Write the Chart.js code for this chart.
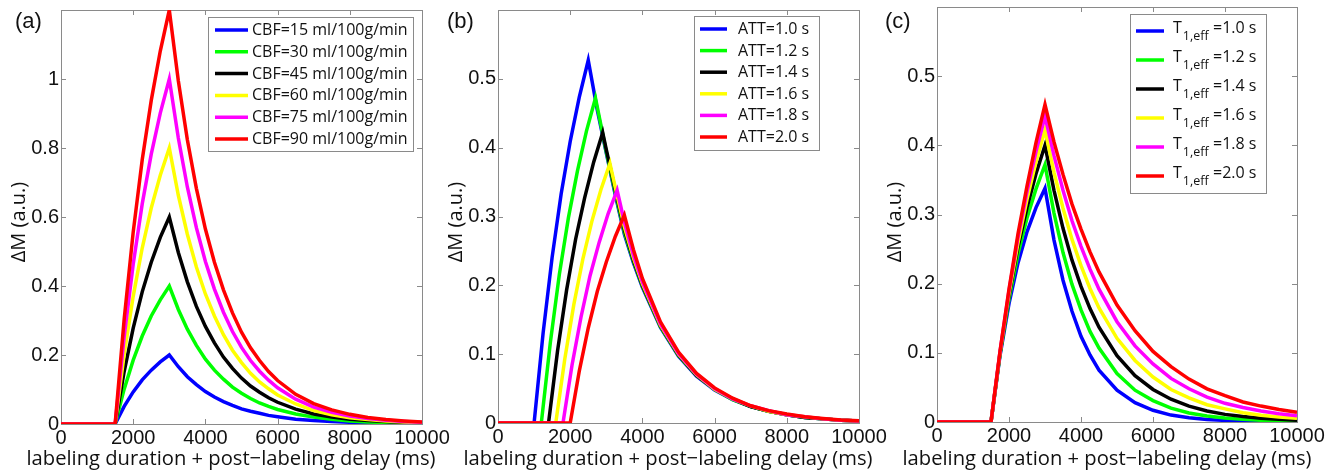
<!DOCTYPE html>
<html>
<head>
<meta charset="utf-8">
<script src="https://cdn.jsdelivr.net/npm/chart.js@4.4.1/dist/chart.umd.min.js"></script>
<style>
  body { margin: 0; background: #fff; width: 1344px; height: 475px; overflow: hidden; position: relative; }
  canvas { position: absolute; top: 0; }
</style>
</head>
<body>
<canvas id="chartA" width="470" height="475" style="left:0px"></canvas>
<canvas id="chartB" width="470" height="475" style="left:440px"></canvas>
<canvas id="chartC" width="464" height="475" style="left:880px"></canvas>
<script>
// shared axis stuff
const xTicks = [0, 2000, 4000, 6000, 8000, 10000];
const seriesColors = ['#0000ff', '#00ff00', '#000000', '#ffff00', '#ff00ff', '#ff0000'];
const xTitle = 'labeling duration + post\u2212labeling delay (ms)';
const yTitle = '\u0394M (a.u.)';

// (a) different CBF values
const cbfLabels = ['CBF=15 ml/100g/min', 'CBF=30 ml/100g/min', 'CBF=45 ml/100g/min',
                   'CBF=60 ml/100g/min', 'CBF=75 ml/100g/min', 'CBF=90 ml/100g/min'];
const yTicksA = [0, 0.2, 0.4, 0.6, 0.8, 1];
const timesA = [0, 1500, 1750, 2000, 2250, 2500, 2750, 3000, 3250, 3500, 3750, 4000, 4250, 4500,
                4750, 5000, 5250, 5500, 5750, 6000, 6500, 7000, 7500, 8000, 8500, 9000, 9500, 10000];
const cbf15 = [0, 0, 0.051, 0.093, 0.128, 0.156, 0.180, 0.200, 0.166, 0.137, 0.114, 0.094, 0.078, 0.065,
               0.054, 0.044, 0.037, 0.031, 0.025, 0.021, 0.014, 0.010, 0.007, 0.005, 0.003, 0.002, 0.0015, 0.001];
const cbf30 = [0, 0, 0.101, 0.185, 0.255, 0.313, 0.360, 0.400, 0.332, 0.275, 0.228, 0.188, 0.156, 0.130,
               0.107, 0.089, 0.074, 0.061, 0.051, 0.042, 0.029, 0.020, 0.014, 0.009, 0.006, 0.004, 0.003, 0.002];
const cbf45 = [0, 0, 0.152, 0.278, 0.383, 0.469, 0.541, 0.600, 0.497, 0.412, 0.341, 0.283, 0.235, 0.194,
               0.161, 0.133, 0.110, 0.092, 0.076, 0.063, 0.043, 0.029, 0.020, 0.014, 0.010, 0.007, 0.0045, 0.003];
const cbf60 = [0, 0, 0.202, 0.370, 0.510, 0.626, 0.721, 0.800, 0.663, 0.550, 0.455, 0.377, 0.313, 0.259,
               0.214, 0.178, 0.147, 0.122, 0.102, 0.084, 0.058, 0.039, 0.027, 0.018, 0.013, 0.009, 0.006, 0.004];
const cbf75 = [0, 0, 0.253, 0.463, 0.638, 0.782, 0.901, 1.000, 0.829, 0.687, 0.569, 0.471, 0.391, 0.324,
               0.268, 0.222, 0.184, 0.153, 0.127, 0.105, 0.072, 0.049, 0.034, 0.023, 0.016, 0.011, 0.0075, 0.005];
const cbf90 = [0, 0, 0.304, 0.556, 0.766, 0.938, 1.081, 1.200, 0.995, 0.824, 0.683, 0.565, 0.469, 0.389,
               0.322, 0.266, 0.221, 0.184, 0.152, 0.126, 0.086, 0.059, 0.041, 0.028, 0.019, 0.013, 0.009, 0.006];

// (b) different arterial transit times
const attLabels = ['ATT=1.0 s', 'ATT=1.2 s', 'ATT=1.4 s', 'ATT=1.6 s', 'ATT=1.8 s', 'ATT=2.0 s'];
const yTicksB = [0, 0.1, 0.2, 0.3, 0.4, 0.5];
const att10T = [0, 1000, 1250, 1500, 1750, 2000, 2250, 2500, 2750, 3000, 3250, 3500, 3750, 4000,
                4500, 5000, 5500, 6000, 6500, 7000, 7500, 8000, 8500, 9000, 9500, 10000];
const att10 = [0, 0, 0.131, 0.241, 0.333, 0.409, 0.473, 0.527, 0.455, 0.392, 0.331, 0.274, 0.233, 0.197,
               0.139, 0.097, 0.068, 0.048, 0.034, 0.024, 0.017, 0.012, 0.008, 0.006, 0.004, 0.003];
const att12T = [0, 1200, 1450, 1700, 1950, 2200, 2450, 2700, 3000, 3250, 3500, 3750, 4000,
                4500, 5000, 5500, 6000, 6500, 7000, 7500, 8000, 8500, 9000, 9500, 10000];
const att12 = [0, 0, 0.117, 0.216, 0.298, 0.366, 0.424, 0.472, 0.394, 0.334, 0.277, 0.235, 0.199,
               0.140, 0.098, 0.069, 0.049, 0.034, 0.024, 0.017, 0.012, 0.008, 0.006, 0.004, 0.003];
const att14T = [0, 1400, 1650, 1900, 2150, 2400, 2650, 2900, 3000, 3250, 3500, 3750, 4000,
                4500, 5000, 5500, 6000, 6500, 7000, 7500, 8000, 8500, 9000, 9500, 10000];
const att14 = [0, 0, 0.105, 0.193, 0.267, 0.327, 0.379, 0.422, 0.397, 0.338, 0.281, 0.237, 0.200,
               0.141, 0.099, 0.069, 0.049, 0.035, 0.024, 0.017, 0.012, 0.008, 0.006, 0.004, 0.003];
const att16T = [0, 1600, 1850, 2100, 2350, 2600, 2850, 3100, 3250, 3500, 3750, 4000,
                4500, 5000, 5500, 6000, 6500, 7000, 7500, 8000, 8500, 9000, 9500, 10000];
const att16 = [0, 0, 0.093, 0.172, 0.238, 0.293, 0.339, 0.377, 0.342, 0.285, 0.240, 0.202,
               0.142, 0.100, 0.070, 0.049, 0.035, 0.025, 0.017, 0.012, 0.009, 0.006, 0.004, 0.003];
const att18T = [0, 1800, 2050, 2300, 2550, 2800, 3050, 3300, 3500, 3750, 4000,
                4500, 5000, 5500, 6000, 6500, 7000, 7500, 8000, 8500, 9000, 9500, 10000];
const att18 = [0, 0, 0.084, 0.154, 0.214, 0.262, 0.304, 0.338, 0.292, 0.244, 0.205,
               0.144, 0.101, 0.071, 0.050, 0.035, 0.025, 0.018, 0.012, 0.009, 0.006, 0.004, 0.003];
const att20T = [0, 2000, 2250, 2500, 2750, 3000, 3250, 3500, 3750, 4000,
                4500, 5000, 5500, 6000, 6500, 7000, 7500, 8000, 8500, 9000, 9500, 10000];
const att20 = [0, 0, 0.075, 0.138, 0.191, 0.234, 0.271, 0.302, 0.252, 0.210,
               0.147, 0.103, 0.072, 0.051, 0.036, 0.025, 0.018, 0.013, 0.009, 0.0065, 0.0045, 0.0033];

// (c) different effective T1
const t1Values = ['=1.0 s', '=1.2 s', '=1.4 s', '=1.6 s', '=1.8 s', '=2.0 s'];
const yTicksC = [0, 0.1, 0.2, 0.3, 0.4, 0.5];
const timesC = [0, 1500, 1750, 2000, 2250, 2500, 2750, 3000, 3250, 3500, 3750, 4000, 4250, 4500,
                5000, 5500, 6000, 6500, 7000, 7500, 8000, 8500, 9000, 9500, 10000];
const t1_10 = [0, 0, 0.096, 0.171, 0.230, 0.275, 0.310, 0.338, 0.263, 0.205, 0.160, 0.124, 0.097, 0.075,
               0.046, 0.028, 0.017, 0.010, 0.006, 0.0037, 0.0023, 0.0014, 0.0008, 0.0005, 0.0003];
const t1_12 = [0, 0, 0.098, 0.178, 0.243, 0.295, 0.337, 0.372, 0.302, 0.245, 0.199, 0.162, 0.131, 0.107,
               0.070, 0.046, 0.031, 0.020, 0.013, 0.0087, 0.0058, 0.0038, 0.0025, 0.0016, 0.0011];
const t1_14 = [0, 0, 0.099, 0.183, 0.253, 0.310, 0.359, 0.400, 0.335, 0.280, 0.234, 0.196, 0.164, 0.137,
               0.096, 0.067, 0.047, 0.033, 0.023, 0.016, 0.011, 0.0079, 0.0055, 0.0038, 0.0027];
const t1_16 = [0, 0, 0.100, 0.186, 0.259, 0.322, 0.376, 0.422, 0.361, 0.309, 0.264, 0.226, 0.193, 0.165,
               0.121, 0.089, 0.065, 0.047, 0.035, 0.025, 0.019, 0.0135, 0.0099, 0.0073, 0.0053];
const t1_18 = [0, 0, 0.102, 0.190, 0.267, 0.333, 0.391, 0.442, 0.385, 0.335, 0.291, 0.254, 0.221, 0.192,
               0.145, 0.110, 0.084, 0.063, 0.048, 0.036, 0.027, 0.021, 0.016, 0.012, 0.009];
const t1_20 = [0, 0, 0.102, 0.192, 0.272, 0.341, 0.404, 0.459, 0.405, 0.358, 0.315, 0.279, 0.246, 0.217,
               0.169, 0.132, 0.102, 0.080, 0.062, 0.048, 0.038, 0.029, 0.023, 0.018, 0.014];

const boxGray = '#8a8a8a';
const textColor = '#111';
const titleFamily = '"Open Sans", sans-serif';

// draws the matlab-ish box, inward ticks, axis titles, the legend and the (a)/(b)/(c) tag
const panelDecor = {
  id: 'panelDecor',
  beforeDatasetsDraw(chart) {
    const {ctx, chartArea: a, scales: {x, y}} = chart;
    ctx.save();
    ctx.strokeStyle = boxGray;
    ctx.lineWidth = 1;
    ctx.beginPath();
    x.ticks.forEach(t => {
      const px = Math.round(x.getPixelForValue(t.value)) + 0.5;
      ctx.moveTo(px, a.bottom); ctx.lineTo(px, a.bottom - 5);
      ctx.moveTo(px, a.top); ctx.lineTo(px, a.top + 5);
    });
    y.ticks.forEach(t => {
      const py = Math.round(y.getPixelForValue(t.value)) + 0.5;
      ctx.moveTo(a.left, py); ctx.lineTo(a.left + 5, py);
      ctx.moveTo(a.right, py); ctx.lineTo(a.right - 5, py);
    });
    ctx.stroke();
    ctx.strokeRect(a.left + 0.5, a.top + 0.5, a.right - a.left, a.bottom - a.top);

    // axis titles (drawn here so Chart.js does not squeeze them to the axis width)
    ctx.fillStyle = textColor;
    ctx.textAlign = 'center';
    ctx.textBaseline = 'alphabetic';
    ctx.font = '20px ' + titleFamily;
    const w = ctx.measureText(xTitle).width;
    const size = Math.min(24, 20 * 409 / w);
    ctx.font = size.toFixed(2) + 'px ' + titleFamily;
    ctx.fillText(xTitle, a.left + 170, 465);
    ctx.translate(a.left - 42, 222);
    ctx.rotate(-Math.PI / 2);
    ctx.font = '20px ' + titleFamily;
    ctx.textBaseline = 'middle';
    ctx.fillText(yTitle, 0, 0);
    ctx.restore();
  },
  afterDraw(chart, args, opts) {
    const ctx = chart.ctx;
    const lg = opts.legend;
    ctx.save();
    ctx.fillStyle = '#fff';
    ctx.fillRect(lg.x0, lg.y0, lg.x1 - lg.x0, lg.y1 - lg.y0);
    ctx.strokeStyle = boxGray;
    ctx.lineWidth = 1;
    ctx.strokeRect(lg.x0 + 0.5, lg.y0 + 0.5, lg.x1 - lg.x0, lg.y1 - lg.y0);
    chart.data.datasets.forEach((ds, i) => {
      const ry = lg.rowY0 + i * lg.rowStep;
      ctx.strokeStyle = ds.borderColor;
      ctx.lineWidth = 3.5;
      ctx.beginPath();
      ctx.moveTo(lg.lineX0, ry);
      ctx.lineTo(lg.lineX1, ry);
      ctx.stroke();
      ctx.fillStyle = textColor;
      ctx.textBaseline = 'middle';
      ctx.textAlign = 'left';
      if (lg.subscript) {
        // T with a 1,eff subscript
        const ty = ry - 2.5;
        ctx.font = lg.font;
        ctx.fillText('T', lg.textX, ty);
        const tw = ctx.measureText('T').width;
        ctx.font = lg.subFont;
        ctx.fillText(lg.subscript, lg.textX + tw + 1, ty + 8);
        ctx.font = lg.font;
        ctx.fillText(ds.label, lg.valueX, ty);
      } else {
        ctx.font = lg.font;
        ctx.fillText(ds.label, lg.textX, ry + 0.5);
      }
    });
    ctx.fillStyle = textColor;
    ctx.font = '22px "Liberation Sans", Arial, sans-serif';
    ctx.textBaseline = 'alphabetic';
    ctx.fillText(opts.tag, opts.tagX, 28);
    ctx.restore();
  }
};

function makePanel(id, p) {
  const datasets = p.series.map((s, i) => ({
    label: p.labels[i],
    data: s.t.map((t, j) => ({x: t, y: s.v[j]})),
    borderColor: seriesColors[i],
    backgroundColor: seriesColors[i],
    borderWidth: 3.5,
    pointRadius: 0,
    tension: 0,
    fill: false,
    order: p.series.length - i   // red ends up on top
  }));
  const canvas = document.getElementById(id);
  const tickFont = {family: '"Liberation Sans", Arial, sans-serif', size: 20};
  new Chart(canvas, {
    type: 'line',
    data: {datasets},
    options: {
      responsive: false,
      animation: false,
      events: [],
      layout: {padding: {top: p.top, right: canvas.width - p.right, left: 0, bottom: 0}},
      plugins: {
        legend: {display: false},
        tooltip: {enabled: false},
        panelDecor: {tag: p.tag, tagX: p.tagX, legend: p.legend}
      },
      scales: {
        x: {
          type: 'linear', min: 0, max: 10000,
          grid: {display: false, drawTicks: false},
          border: {display: false},
          afterBuildTicks: s => { s.ticks = xTicks.map(v => ({value: v})); },
          afterFit: s => { s.height = canvas.height - p.bottom; s.paddingLeft = 0; s.paddingRight = 0; },
          ticks: {font: tickFont, color: textColor, padding: 2, maxRotation: 0, autoSkip: false,
                  callback: v => String(v)},
          title: {display: false}
        },
        y: {
          type: 'linear', min: 0, max: p.yMax,
          grid: {display: false, drawTicks: false},
          border: {display: false},
          afterBuildTicks: s => { s.ticks = p.yTicks.map(v => ({value: v})); },
          afterFit: s => { s.width = p.left; s.paddingTop = 0; s.paddingBottom = 0; },
          ticks: {font: tickFont, color: textColor, padding: 2, autoSkip: false,
                  callback: v => String(v)},
          title: {display: false}
        }
      }
    },
    plugins: [panelDecor]
  });
}

makePanel('chartA', {
  tag: '(a)', tagX: 15,
  left: 61, right: 422, top: 10, bottom: 424, yMax: 1.2, yTicks: yTicksA,
  labels: cbfLabels,
  series: [
    {t: timesA, v: cbf15}, {t: timesA, v: cbf30}, {t: timesA, v: cbf45},
    {t: timesA, v: cbf60}, {t: timesA, v: cbf75}, {t: timesA, v: cbf90}
  ],
  legend: {x0: 208, y0: 17, x1: 413, y1: 151, lineX0: 215, lineX1: 248, textX: 252,
           rowY0: 30, rowStep: 21.8, font: '16px "Open Sans", sans-serif'}
});

makePanel('chartB', {
  tag: '(b)', tagX: 7,
  left: 58, right: 419, top: 10, bottom: 423, yMax: 0.6, yTicks: yTicksB,
  labels: attLabels,
  series: [
    {t: att10T, v: att10}, {t: att12T, v: att12}, {t: att14T, v: att14},
    {t: att16T, v: att16}, {t: att18T, v: att18}, {t: att20T, v: att20}
  ],
  legend: {x0: 254, y0: 16, x1: 379, y1: 150, lineX0: 260, lineX1: 287, textX: 298,
           rowY0: 29, rowStep: 21.6, font: '16px "Open Sans", sans-serif'}
});

makePanel('chartC', {
  tag: '(c)', tagX: 5,
  left: 57, right: 417, top: 7, bottom: 422, yMax: 0.6, yTicks: yTicksC,
  labels: t1Values,
  series: [
    {t: timesC, v: t1_10}, {t: timesC, v: t1_12}, {t: timesC, v: t1_14},
    {t: timesC, v: t1_16}, {t: timesC, v: t1_18}, {t: timesC, v: t1_20}
  ],
  legend: {x0: 250, y0: 14, x1: 386, y1: 193, lineX0: 256, lineX1: 284, textX: 293, valueX: 333,
           rowY0: 31, rowStep: 29, subscript: '1,eff',
           font: '16px "Open Sans", sans-serif', subFont: '12.5px "Open Sans", sans-serif'}
});
</script>
</body>
</html>
